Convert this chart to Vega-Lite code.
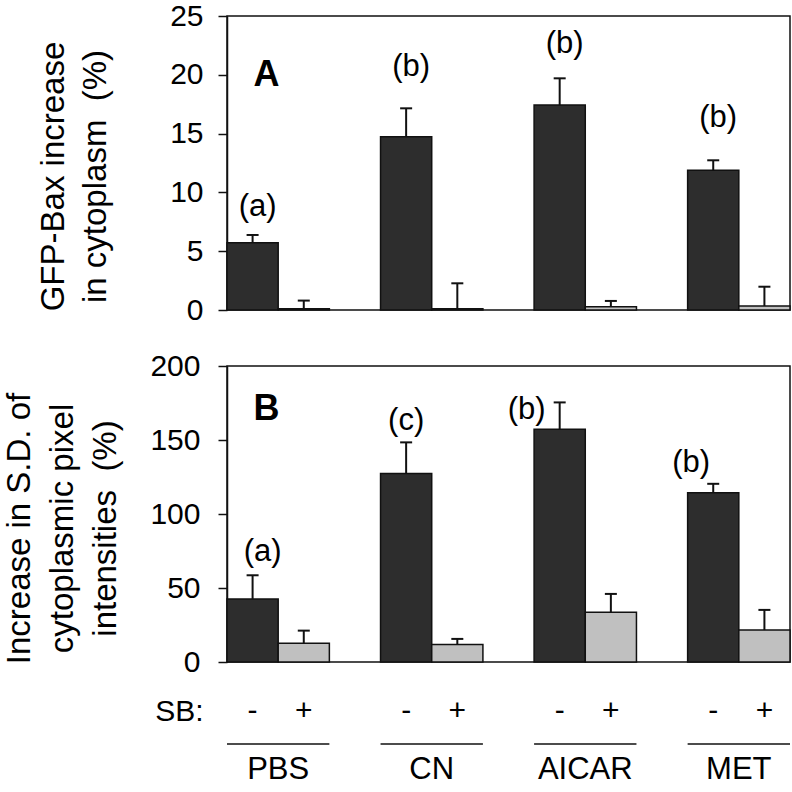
{
  "$schema": "https://vega.github.io/schema/vega-lite/v6.json",
  "padding": {"left": 2, "top": 0, "right": 0, "bottom": 0},
  "background": "white",
  "config": {
    "font": "Liberation Sans",
    "view": {"stroke": "#111111", "strokeWidth": 1.5},
    "axis": {"domainColor": "#111111", "tickColor": "#111111", "labelColor": "black", "titleColor": "black", "labelFont": "Liberation Sans", "titleFont": "Liberation Sans", "titleFontWeight": "normal", "grid": false, "domainWidth": 1.5, "tickWidth": 1.5}
  },
  "datasets": {
    "bars": [
      {"panel": "A", "group": "PBS", "sb": "-", "value": 5.72, "upper": 6.38},
      {"panel": "A", "group": "PBS", "sb": "+", "value": 0.1, "upper": 0.8},
      {"panel": "A", "group": "CN", "sb": "-", "value": 14.74, "upper": 17.15},
      {"panel": "A", "group": "CN", "sb": "+", "value": 0.1, "upper": 2.27},
      {"panel": "A", "group": "AICAR", "sb": "-", "value": 17.43, "upper": 19.7},
      {"panel": "A", "group": "AICAR", "sb": "+", "value": 0.28, "upper": 0.77},
      {"panel": "A", "group": "MET", "sb": "-", "value": 11.88, "upper": 12.73},
      {"panel": "A", "group": "MET", "sb": "+", "value": 0.34, "upper": 1.98},
      {"panel": "B", "group": "PBS", "sb": "-", "value": 42.6, "upper": 58.6},
      {"panel": "B", "group": "PBS", "sb": "+", "value": 12.6, "upper": 21.2},
      {"panel": "B", "group": "CN", "sb": "-", "value": 127.4, "upper": 148.4},
      {"panel": "B", "group": "CN", "sb": "+", "value": 11.8, "upper": 15.6},
      {"panel": "B", "group": "AICAR", "sb": "-", "value": 157.2, "upper": 175.4},
      {"panel": "B", "group": "AICAR", "sb": "+", "value": 33.6, "upper": 46.0},
      {"panel": "B", "group": "MET", "sb": "-", "value": 114.3, "upper": 120.4},
      {"panel": "B", "group": "MET", "sb": "+", "value": 21.6, "upper": 35.2}
    ],
    "labels": [
      {"panel": "A", "group": "PBS", "sb": "-", "ly": 8.75, "label": "(a)"},
      {"panel": "A", "group": "CN", "sb": "-", "ly": 20.7, "label": "(b)"},
      {"panel": "A", "group": "AICAR", "sb": "-", "ly": 22.6, "label": "(b)"},
      {"panel": "A", "group": "MET", "sb": "-", "ly": 16.3, "label": "(b)"},
      {"panel": "B", "group": "PBS", "sb": "-", "ly": 74.1, "label": "(a)"},
      {"panel": "B", "group": "CN", "sb": "-", "ly": 163, "label": "(c)"},
      {"panel": "B", "group": "AICAR", "sb": "-", "ly": 170, "label": "(b)"},
      {"panel": "B", "group": "MET", "sb": "-", "ly": 134.4, "label": "(b)"}
    ],
    "letters": [
      {"panel": "A", "group": "PBS", "sb": "-", "ly": 20, "label": "A"},
      {"panel": "B", "group": "PBS", "sb": "-", "ly": 171, "label": "B"}
    ],
    "xlabels": [
      {"group": "PBS", "sb": "-", "row": "sign"},
      {"group": "PBS", "sb": "+", "row": "sign"},
      {"group": "PBS", "row": "line"},
      {"group": "PBS", "row": "name"},
      {"group": "CN", "sb": "-", "row": "sign"},
      {"group": "CN", "sb": "+", "row": "sign"},
      {"group": "CN", "row": "line"},
      {"group": "CN", "row": "name"},
      {"group": "AICAR", "sb": "-", "row": "sign"},
      {"group": "AICAR", "sb": "+", "row": "sign"},
      {"group": "AICAR", "row": "line"},
      {"group": "AICAR", "row": "name"},
      {"group": "MET", "sb": "-", "row": "sign"},
      {"group": "MET", "sb": "+", "row": "sign"},
      {"group": "MET", "row": "line"},
      {"group": "MET", "row": "name"}
    ]
  },
  "bounds": "flush",
  "spacing": 56,
  "vconcat": [
    {
      "width": 563,
      "height": 294,
      "encoding": {
        "x": {"field": "group", "type": "nominal", "scale": {"domain": ["PBS", "CN", "AICAR", "MET"], "paddingInner": 0.3333, "paddingOuter": 0}, "axis": null},
        "xOffset": {"field": "sb", "type": "nominal", "scale": {"domain": ["-", "+"], "paddingInner": 0, "paddingOuter": 0}}
      },
      "layer": [
        {
          "data": {"name": "bars"},
          "transform": [{"filter": "datum.panel == 'A'"}],
          "mark": {"type": "bar", "stroke": "#111111", "strokeWidth": 1.5},
          "encoding": {
            "y": {"field": "value", "type": "quantitative", "scale": {"domain": [0, 25], "nice": false},
              "axis": {"values": [0, 5, 10, 15, 20, 25], "title": ["GFP-Bax increase", "in cytoplasm\u00a0 (%)"], "titleFontSize": 33, "titleLineHeight": 42, "titleX": -164, "titleY": 160, "titleAngle": -90, "titleBaseline": "alphabetic", "titleAlign": "center", "labelFontSize": 30, "labelPadding": 15, "tickSize": 9}},
            "color": {"field": "sb", "type": "nominal", "scale": {"domain": ["-", "+"], "range": ["#2d2d2d", "#c0c0c0"]}, "legend": null}
          }
        },
        {
          "data": {"name": "bars"},
          "transform": [{"filter": "datum.panel == 'A'"}],
          "mark": {"type": "rule", "color": "#111111", "strokeWidth": 2},
          "encoding": {"y": {"field": "value", "type": "quantitative"}, "y2": {"field": "upper"}}
        },
        {
          "data": {"name": "bars"},
          "transform": [{"filter": "datum.panel == 'A'"}],
          "mark": {"type": "tick", "color": "#111111", "thickness": 2, "size": 12, "orient": "horizontal", "opacity": 1},
          "encoding": {"y": {"field": "upper", "type": "quantitative"}}
        },
        {
          "data": {"name": "labels"},
          "transform": [{"filter": "datum.panel == 'A'"}],
          "mark": {"type": "text", "fontSize": 31, "dx": 5, "baseline": "middle"},
          "encoding": {"y": {"field": "ly", "type": "quantitative"}, "text": {"field": "label"}}
        },
        {
          "data": {"name": "letters"},
          "transform": [{"filter": "datum.panel == 'A'"}],
          "mark": {"type": "text", "fontSize": 36, "fontWeight": "bold", "dx": 14, "baseline": "middle"},
          "encoding": {"y": {"field": "ly", "type": "quantitative"}, "text": {"field": "label"}}
        }
      ]
    },
    {
      "width": 563,
      "height": 296,
      "encoding": {
        "x": {"field": "group", "type": "nominal", "scale": {"domain": ["PBS", "CN", "AICAR", "MET"], "paddingInner": 0.3333, "paddingOuter": 0}, "axis": null},
        "xOffset": {"field": "sb", "type": "nominal", "scale": {"domain": ["-", "+"], "paddingInner": 0, "paddingOuter": 0}}
      },
      "layer": [
        {
          "data": {"name": "bars"},
          "transform": [{"filter": "datum.panel == 'B'"}],
          "mark": {"type": "bar", "stroke": "#111111", "strokeWidth": 1.5},
          "encoding": {
            "y": {"field": "value", "type": "quantitative", "scale": {"domain": [0, 200], "nice": false},
              "axis": {"values": [0, 50, 100, 150, 200], "title": ["Increase in S.D. of", "cytoplasmic pixel", "intensities\u00a0 (%)"], "titleFontSize": 33, "titleLineHeight": 43, "titleX": -198, "titleY": 162, "titleAngle": -90, "titleBaseline": "alphabetic", "titleAlign": "center", "labelFontSize": 30, "labelPadding": 18, "tickSize": 9}},
            "color": {"field": "sb", "type": "nominal", "scale": {"domain": ["-", "+"], "range": ["#2d2d2d", "#c0c0c0"]}, "legend": null}
          }
        },
        {
          "data": {"name": "bars"},
          "transform": [{"filter": "datum.panel == 'B'"}],
          "mark": {"type": "rule", "color": "#111111", "strokeWidth": 2},
          "encoding": {"y": {"field": "value", "type": "quantitative"}, "y2": {"field": "upper"}}
        },
        {
          "data": {"name": "bars"},
          "transform": [{"filter": "datum.panel == 'B'"}],
          "mark": {"type": "tick", "color": "#111111", "thickness": 2, "size": 12, "orient": "horizontal", "opacity": 1},
          "encoding": {"y": {"field": "upper", "type": "quantitative"}}
        },
        {
          "data": {"name": "labels"},
          "transform": [{"filter": "datum.panel == 'B'"}],
          "mark": {"type": "text", "fontSize": 31, "baseline": "middle", "dx": {"expr": "datum.group == 'AICAR' ? -33 : datum.group == 'MET' ? -22 : datum.group == 'PBS' ? 10 : 0"}},
          "encoding": {"y": {"field": "ly", "type": "quantitative"}, "text": {"field": "label"}}
        },
        {
          "data": {"name": "letters"},
          "transform": [{"filter": "datum.panel == 'B'"}],
          "mark": {"type": "text", "fontSize": 36, "fontWeight": "bold", "dx": 14, "baseline": "middle"},
          "encoding": {"y": {"field": "ly", "type": "quantitative"}, "text": {"field": "label"}}
        }
      ]
    },
    {
      "width": 563,
      "height": 52,
      "view": {"stroke": null},
      "data": {"name": "xlabels"},
      "encoding": {
        "x": {"field": "group", "type": "nominal", "scale": {"domain": ["PBS", "CN", "AICAR", "MET"], "paddingInner": 0.3333, "paddingOuter": 0}, "axis": null},
        "y": {"field": "row", "type": "nominal", "scale": {"type": "point", "domain": ["sign", "line", "name"], "padding": 0},
          "axis": {"domain": false, "ticks": false, "tickSize": 0, "title": null, "labelExpr": "datum.value == 'sign' ? 'SB:' : ''", "labelFontSize": 30, "labelPadding": 24, "labelBaseline": "middle", "labelOffset": -7}}
      },
      "layer": [
        {
          "transform": [{"filter": "datum.row == 'sign'"}],
          "mark": {"type": "text", "fontSize": 30, "baseline": "middle", "dy": -7},
          "encoding": {
            "xOffset": {"field": "sb", "type": "nominal", "scale": {"domain": ["-", "+"], "paddingInner": 0, "paddingOuter": 0}},
            "text": {"field": "sb"}
          }
        },
        {
          "transform": [{"filter": "datum.row == 'line'"}],
          "mark": {"type": "rule", "color": "#111111", "strokeWidth": 1.5},
          "encoding": {
            "x": {"field": "group", "type": "nominal", "bandPosition": 0},
            "x2": {"field": "group", "bandPosition": 1}
          }
        },
        {
          "transform": [{"filter": "datum.row == 'name'"}],
          "mark": {"type": "text", "fontSize": 31, "baseline": "middle"},
          "encoding": {"text": {"field": "group"}}
        }
      ]
    }
  ]
}
